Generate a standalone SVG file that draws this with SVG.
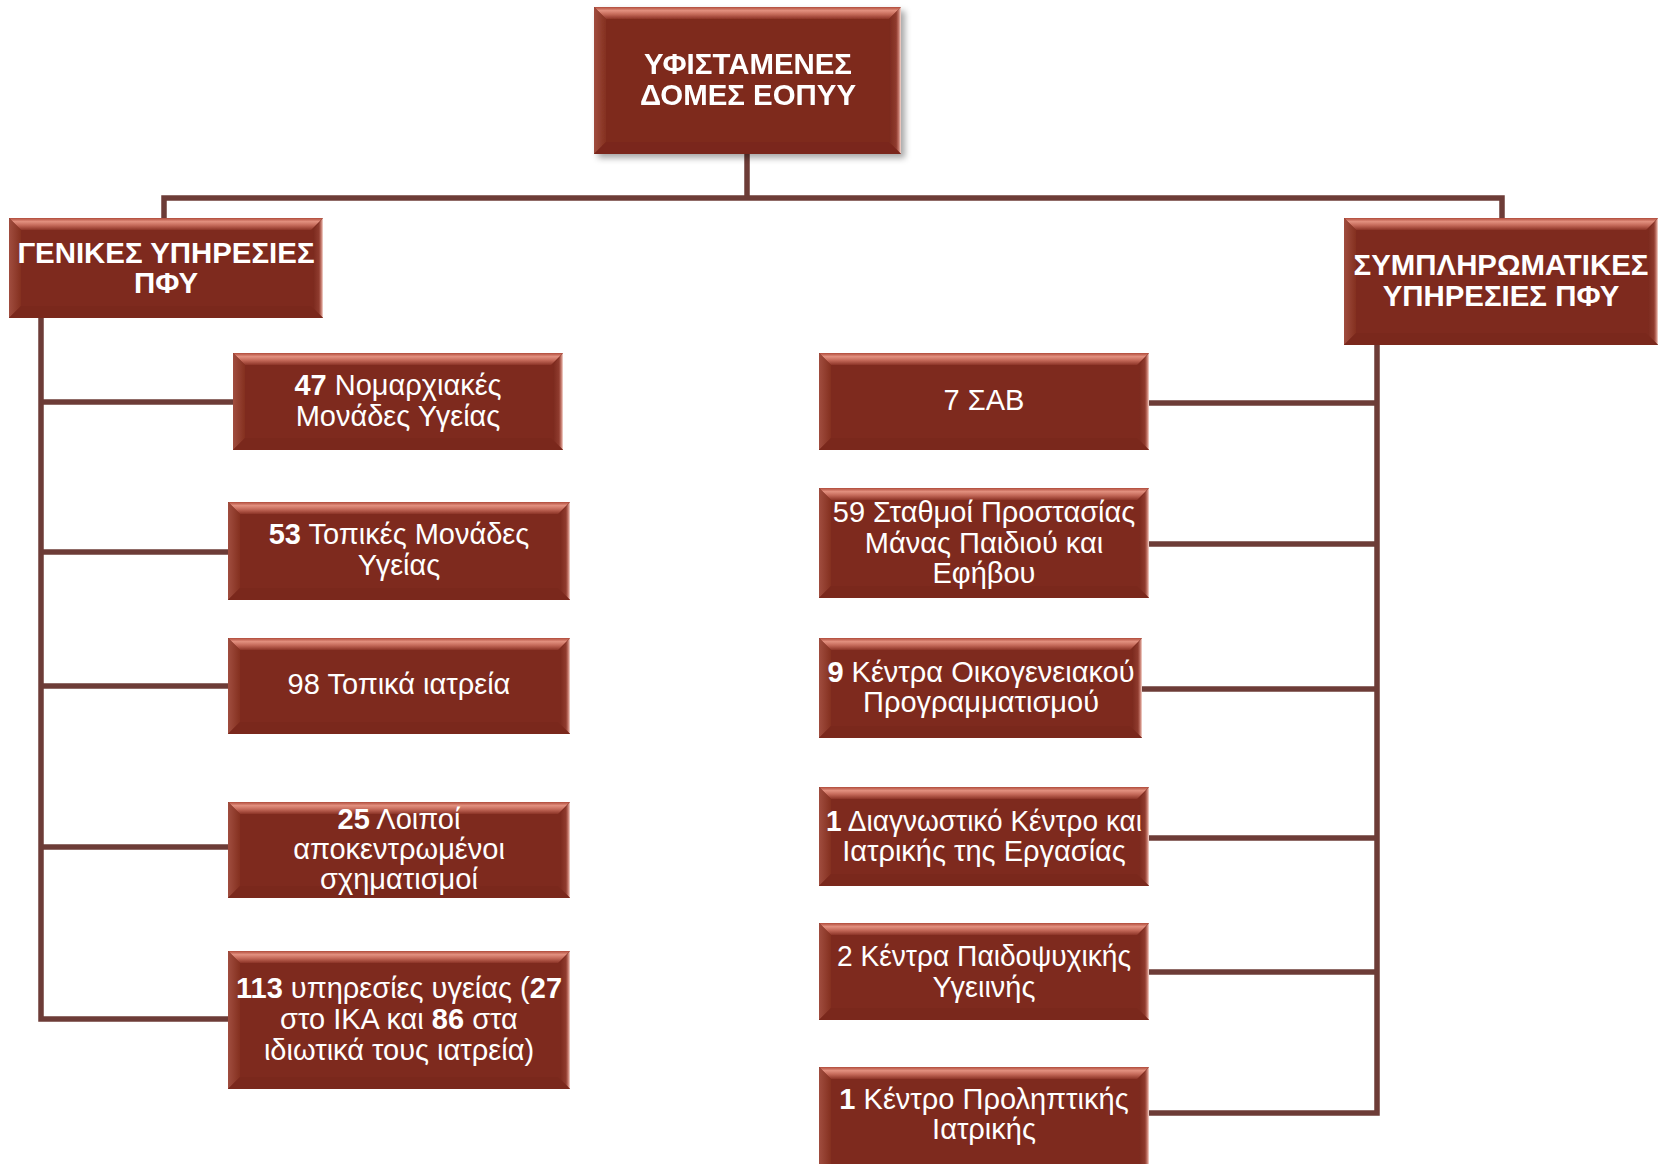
<svg xmlns="http://www.w3.org/2000/svg" width="1661" height="1164" viewBox="0 0 1661 1164">
<defs>
<linearGradient id="gTop" x1="0" y1="0" x2="0" y2="1">
<stop offset="0" stop-color="#B04B3B"/>
<stop offset="0.3" stop-color="#E2907F"/>
<stop offset="0.6" stop-color="#C56A5A"/>
<stop offset="1" stop-color="#8C3427"/>
</linearGradient>
<linearGradient id="gLeft" x1="0" y1="0" x2="1" y2="0">
<stop offset="0" stop-color="#A04D3F"/>
<stop offset="1" stop-color="#84301F"/>
</linearGradient>
<linearGradient id="gRight" x1="0" y1="0" x2="1" y2="0">
<stop offset="0" stop-color="#7B291D"/>
<stop offset="0.6" stop-color="#8F3B2E"/>
<stop offset="0.82" stop-color="#C4786B"/>
<stop offset="1" stop-color="#F7DCD5"/>
</linearGradient>
<filter id="shadow" x="-10%" y="-10%" width="125%" height="130%">
<feGaussianBlur in="SourceAlpha" stdDeviation="3"/>
<feOffset dx="4" dy="4" result="o"/>
<feFlood flood-color="#000" flood-opacity="0.35"/>
<feComposite in2="o" operator="in"/>
<feMerge><feMergeNode/><feMergeNode in="SourceGraphic"/></feMerge>
</filter>
</defs>
<style>
.face{fill:#7E2A1E}
.bt{fill:url(#gTop)}
.bl{fill:url(#gLeft)}
.br{fill:url(#gRight)}
.bb{fill:#7A281C}
.conn{fill:none;stroke:#6D3C37;stroke-width:5.5;stroke-linejoin:miter}
text{font-family:"Liberation Sans",Arial,sans-serif;fill:#FFFFFF;text-anchor:middle}
.h{font-size:29.4px;font-weight:bold}
.t{font-size:29px}
.b{font-weight:bold}
</style>
<rect width="1661" height="1164" fill="#FFFFFF"/>

<g id="connectors">
<path class="conn" d="M747,154 V198"/>
<path class="conn" d="M164,218 V198 H1502 V218"/>
<path class="conn" d="M41,318 V1019 H228"/>
<path class="conn" d="M41,402 H233"/>
<path class="conn" d="M41,552 H228"/>
<path class="conn" d="M41,686 H228"/>
<path class="conn" d="M41,847 H228"/>
<path class="conn" d="M1377,345 V1113 H1149"/>
<path class="conn" d="M1149,403 H1377"/>
<path class="conn" d="M1149,544 H1377"/>
<path class="conn" d="M1142,689 H1377"/>
<path class="conn" d="M1149,838 H1377"/>
<path class="conn" d="M1149,972 H1377"/>
</g>

<g id="root" filter="url(#shadow)">
<rect class="face" x="594" y="7" width="307" height="147"/>
<polygon class="bt" points="594,7 901,7 889,19 606,19"/>
<polygon class="bl" points="594,7 606,19 606,142 594,154"/>
<polygon class="br" points="901,7 901,154 889,142 889,19"/>
<polygon class="bb" points="594,154 901,154 889,142 606,142"/>
<text class="h" x="748" y="74">ΥΦΙΣΤΑΜΕΝΕΣ</text>
<text class="h" x="748" y="105">ΔΟΜΕΣ ΕΟΠΥΥ</text>
</g>

<g id="general">
<rect class="face" x="9" y="218" width="314" height="100"/>
<polygon class="bt" points="9,218 323,218 311,230 21,230"/>
<polygon class="bl" points="9,218 21,230 21,306 9,318"/>
<polygon class="br" points="323,218 323,318 313,308 313,230"/>
<polygon class="bb" points="9,318 323,318 311,306 21,306"/>
<text class="h" x="166" y="263">ΓΕΝΙΚΕΣ ΥΠΗΡΕΣΙΕΣ</text>
<text class="h" x="166" y="293">ΠΦΥ</text>
</g>

<g id="supplementary">
<rect class="face" x="1344" y="218" width="314" height="127"/>
<polygon class="bt" points="1344,218 1658,218 1646,230 1356,230"/>
<polygon class="bl" points="1344,218 1356,230 1356,333 1344,345"/>
<polygon class="br" points="1658,218 1658,345 1648,335 1648,230"/>
<polygon class="bb" points="1344,345 1658,345 1646,333 1356,333"/>
<text class="h" x="1501" y="275">ΣΥΜΠΛΗΡΩΜΑΤΙΚΕΣ</text>
<text class="h" x="1501" y="306">ΥΠΗΡΕΣΙΕΣ ΠΦΥ</text>
</g>

<g id="n47">
<rect class="face" x="233" y="353" width="330" height="97"/>
<polygon class="bt" points="233,353 563,353 551,365 245,365"/>
<polygon class="bl" points="233,353 245,365 245,438 233,450"/>
<polygon class="br" points="563,353 563,450 553,440 553,365"/>
<polygon class="bb" points="233,450 563,450 551,438 245,438"/>
<text class="t" x="398" y="395"><tspan class="b">47</tspan> Νομαρχιακές</text>
<text class="t" x="398" y="426">Μονάδες Υγείας</text>
</g>

<g id="n53">
<rect class="face" x="228" y="502" width="342" height="98"/>
<polygon class="bt" points="228,502 570,502 558,514 240,514"/>
<polygon class="bl" points="228,502 240,514 240,588 228,600"/>
<polygon class="br" points="570,502 570,600 560,590 560,514"/>
<polygon class="bb" points="228,600 570,600 558,588 240,588"/>
<text class="t" x="399" y="544"><tspan class="b">53</tspan> Τοπικές Μονάδες</text>
<text class="t" x="399" y="575">Υγείας</text>
</g>

<g id="n98">
<rect class="face" x="228" y="638" width="342" height="96"/>
<polygon class="bt" points="228,638 570,638 558,650 240,650"/>
<polygon class="bl" points="228,638 240,650 240,722 228,734"/>
<polygon class="br" points="570,638 570,734 560,724 560,650"/>
<polygon class="bb" points="228,734 570,734 558,722 240,722"/>
<text class="t" x="399" y="694">98 Τοπικά ιατρεία</text>
</g>

<g id="n25">
<rect class="face" x="228" y="802" width="342" height="96"/>
<polygon class="bt" points="228,802 570,802 558,814 240,814"/>
<polygon class="bl" points="228,802 240,814 240,886 228,898"/>
<polygon class="br" points="570,802 570,898 560,888 560,814"/>
<polygon class="bb" points="228,898 570,898 558,886 240,886"/>
<text class="t" x="399" y="829"><tspan class="b">25</tspan> Λοιποί</text>
<text class="t" x="399" y="859">αποκεντρωμένοι</text>
<text class="t" x="399" y="889">σχηματισμοί</text>
</g>

<g id="n113">
<rect class="face" x="228" y="951" width="342" height="138"/>
<polygon class="bt" points="228,951 570,951 558,963 240,963"/>
<polygon class="bl" points="228,951 240,963 240,1077 228,1089"/>
<polygon class="br" points="570,951 570,1089 560,1079 560,963"/>
<polygon class="bb" points="228,1089 570,1089 558,1077 240,1077"/>
<text class="t" x="399" y="998"><tspan class="b">113</tspan> υπηρεσίες υγείας (<tspan class="b">27</tspan></text>
<text class="t" x="399" y="1029">στο ΙΚΑ και <tspan class="b">86</tspan> στα</text>
<text class="t" x="399" y="1060">ιδιωτικά τους ιατρεία)</text>
</g>

<g id="n7">
<rect class="face" x="819" y="353" width="330" height="97"/>
<polygon class="bt" points="819,353 1149,353 1137,365 831,365"/>
<polygon class="bl" points="819,353 831,365 831,438 819,450"/>
<polygon class="br" points="1149,353 1149,450 1139,440 1139,365"/>
<polygon class="bb" points="819,450 1149,450 1137,438 831,438"/>
<text class="t" x="984" y="410">7 ΣΑΒ</text>
</g>

<g id="n59">
<rect class="face" x="819" y="488" width="330" height="110"/>
<polygon class="bt" points="819,488 1149,488 1137,500 831,500"/>
<polygon class="bl" points="819,488 831,500 831,586 819,598"/>
<polygon class="br" points="1149,488 1149,598 1139,588 1139,500"/>
<polygon class="bb" points="819,598 1149,598 1137,586 831,586"/>
<text class="t" x="984" y="522">59 Σταθμοί Προστασίας</text>
<text class="t" x="984" y="553">Μάνας Παιδιού και</text>
<text class="t" x="984" y="583">Εφήβου</text>
</g>

<g id="n9">
<rect class="face" x="819" y="638" width="323" height="100"/>
<polygon class="bt" points="819,638 1142,638 1130,650 831,650"/>
<polygon class="bl" points="819,638 831,650 831,726 819,738"/>
<polygon class="br" points="1142,638 1142,738 1132,728 1132,650"/>
<polygon class="bb" points="819,738 1142,738 1130,726 831,726"/>
<text class="t" x="981" y="682"><tspan class="b">9</tspan> Κέντρα Οικογενειακού</text>
<text class="t" x="981" y="712">Προγραμματισμού</text>
</g>

<g id="n1d">
<rect class="face" x="819" y="787" width="330" height="99"/>
<polygon class="bt" points="819,787 1149,787 1137,799 831,799"/>
<polygon class="bl" points="819,787 831,799 831,874 819,886"/>
<polygon class="br" points="1149,787 1149,886 1139,876 1139,799"/>
<polygon class="bb" points="819,886 1149,886 1137,874 831,874"/>
<text class="t" x="984" y="831" textLength="316" lengthAdjust="spacingAndGlyphs"><tspan class="b">1</tspan> Διαγνωστικό Κέντρο και</text>
<text class="t" x="984" y="861">Ιατρικής της Εργασίας</text>
</g>

<g id="n2">
<rect class="face" x="819" y="923" width="330" height="97"/>
<polygon class="bt" points="819,923 1149,923 1137,935 831,935"/>
<polygon class="bl" points="819,923 831,935 831,1008 819,1020"/>
<polygon class="br" points="1149,923 1149,1020 1139,1010 1139,935"/>
<polygon class="bb" points="819,1020 1149,1020 1137,1008 831,1008"/>
<text class="t" x="984" y="966" textLength="294" lengthAdjust="spacingAndGlyphs">2 Κέντρα Παιδοψυχικής</text>
<text class="t" x="984" y="997">Υγειινής</text>
</g>

<g id="n1k">
<rect class="face" x="819" y="1067" width="330" height="97"/>
<polygon class="bt" points="819,1067 1149,1067 1137,1079 831,1079"/>
<polygon class="bl" points="819,1067 831,1079 831,1164 819,1164"/>
<polygon class="br" points="1149,1067 1149,1164 1139,1164 1139,1079"/>
<text class="t" x="984" y="1109"><tspan class="b">1</tspan> Κέντρο Προληπτικής</text>
<text class="t" x="984" y="1139">Ιατρικής</text>
</g>
</svg>
